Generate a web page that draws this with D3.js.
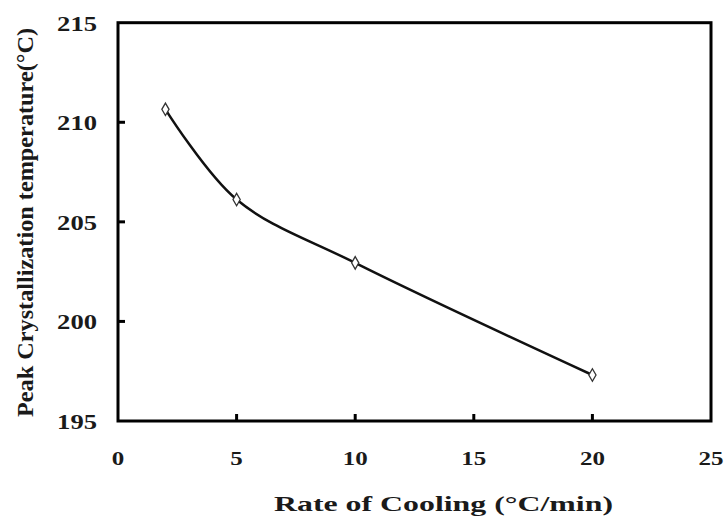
<!DOCTYPE html>
<html>
<head>
<meta charset="utf-8">
<script src="https://cdn.jsdelivr.net/npm/d3@7"></script>
<style>
  body { margin: 0; background: #fff; }
  svg { display: block; }
  text { font-family: "Liberation Serif", "Times New Roman", serif; font-weight: bold; fill: #1a1a1a; }
</style>
</head>
<body>
<svg id="chart" width="726" height="516"></svg>
<script>
const coolingRates = [2, 5, 10, 20];
const peakTemps = [210.65, 206.12, 202.94, 197.31];
const xTicks = [0, 5, 10, 15, 20, 25];
const yTicks = [195, 200, 205, 210, 215];
const xTitle = "Rate of Cooling (°C/min)";
const yTitle = "Peak Crystallization temperature(°C)";

const svg = d3.select("#chart");
const plotL = 118, plotR = 711, plotT = 22.7, plotB = 421;

const x = d3.scaleLinear().domain([0, 25]).range([plotL, plotR]);
const y = d3.scaleLinear().domain([195, 215]).range([plotB, plotT]);

// Frame
svg.append("rect")
  .attr("x", plotL).attr("y", plotT)
  .attr("width", plotR - plotL).attr("height", plotB - plotT)
  .attr("fill", "none").attr("stroke", "#000").attr("stroke-width", 3);

// Inside ticks
const tickLen = 7;
svg.append("g").selectAll("line").data(xTicks.filter(d => d > 0 && d < 25)).join("line")
  .attr("x1", d => x(d)).attr("x2", d => x(d))
  .attr("y1", plotB).attr("y2", plotB - tickLen)
  .attr("stroke", "#000").attr("stroke-width", 3);
svg.append("g").selectAll("line").data(yTicks.filter(d => d > 195 && d < 215)).join("line")
  .attr("x1", plotL).attr("x2", plotL + tickLen)
  .attr("y1", d => y(d)).attr("y2", d => y(d))
  .attr("stroke", "#000").attr("stroke-width", 3);

// Tick labels
svg.append("g").selectAll("text").data(xTicks).join("text")
  .attr("x", d => x(d)).attr("y", 465)
  .attr("text-anchor", "middle")
  .attr("font-size", 19)
  .attr("textLength", d => String(d).length * 12.5)
  .attr("lengthAdjust", "spacingAndGlyphs")
  .text(d => d);

svg.append("g").selectAll("text").data(yTicks).join("text")
  .attr("x", 97).attr("y", d => y(d) + 8)
  .attr("text-anchor", "end")
  .attr("font-size", 20)
  .attr("textLength", d => String(d).length * 13.3)
  .attr("lengthAdjust", "spacingAndGlyphs")
  .text(d => d);

// Axis titles
svg.append("text")
  .attr("x", 443.5).attr("y", 511)
  .attr("text-anchor", "middle")
  .attr("font-size", 21)
  .attr("textLength", 339)
  .attr("lengthAdjust", "spacingAndGlyphs")
  .text(xTitle);

svg.append("text")
  .attr("transform", "translate(33,222.5) rotate(-90)")
  .attr("text-anchor", "middle")
  .attr("font-size", 23)
  .attr("textLength", 389)
  .attr("lengthAdjust", "spacingAndGlyphs")
  .text(yTitle);

// Smoothed line
const pts = coolingRates.map((r, i) => [r, peakTemps[i]]);
const line = d3.line()
  .x(d => x(d[0])).y(d => y(d[1]))
  .curve(d3.curveCatmullRom.alpha(0.5));
svg.append("path")
  .datum(pts)
  .attr("d", line)
  .attr("fill", "none")
  .attr("stroke", "#111")
  .attr("stroke-width", 2.5);

// Markers
svg.append("g").selectAll("path").data(pts).join("path")
  .attr("transform", d => `translate(${x(d[0])},${y(d[1])})`)
  .attr("d", d3.symbol().type(d3.symbolDiamond).size(45))
  .attr("fill", "#fff")
  .attr("stroke", "#333")
  .attr("stroke-width", 1.3);
</script>
</body>
</html>
